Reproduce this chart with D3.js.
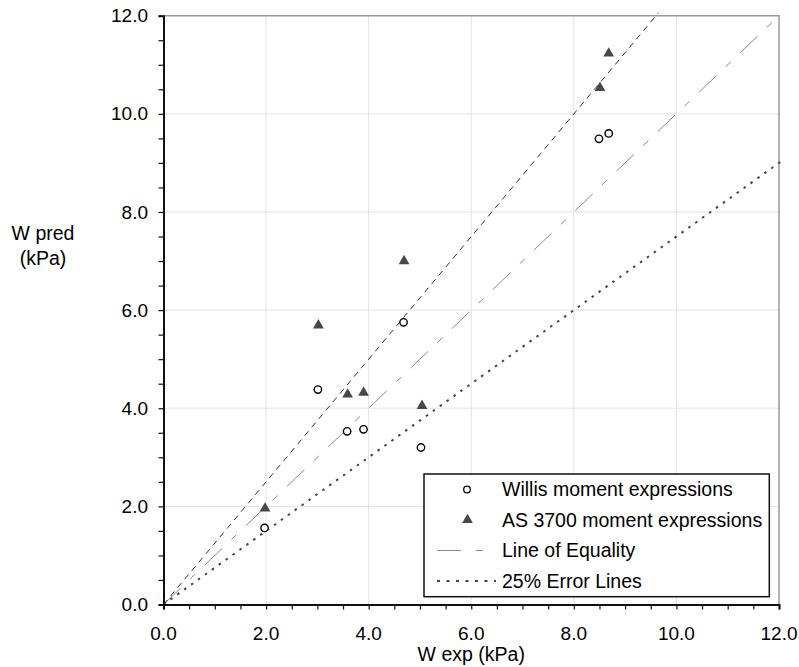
<!DOCTYPE html>
<html>
<head>
<meta charset="utf-8">
<script src="https://cdn.jsdelivr.net/npm/d3@7"></script>
<style>
  body { margin: 0; background: #fff; }
  svg { font-family: "Liberation Sans", Arial, sans-serif; }
</style>
</head>
<body>
<div class="chart"></div>
<script>
// data
const willisX = [1.97, 3.01, 3.58, 3.90, 4.68, 5.02, 8.49, 8.68];
const willisY = [1.56, 4.38, 3.53, 3.57, 5.75, 3.20, 9.49, 9.60];
const asX = [1.98, 3.02, 3.59, 3.90, 4.69, 5.04, 8.51, 8.68];
const asY = [1.96, 5.69, 4.28, 4.32, 7.00, 4.05, 10.53, 11.23];
const equalityLine = [[0, 0], [12, 12]];
const upperErrorLine = [[0, 0], [9.65, 12.06]];
const lowerErrorLine = [[0, 0], [12.08, 9.06]];
const tickValues = [0, 2, 4, 6, 8, 10, 12];
const legendLabels = ["Willis moment expressions", "AS 3700 moment expressions", "Line of Equality", "25% Error Lines"];

const width = 799, height = 667;
const pL = 163.5, pR = 779, pT = 15.7, pB = 604.5;

const svg = d3.select(".chart").append("svg")
  .attr("width", width)
  .attr("height", height);

const x = d3.scaleLinear().domain([0, 12]).range([pL, pR]);
const y = d3.scaleLinear().domain([0, 12]).range([pB, pT]);

// grid
const grid = tickValues.filter(d => d > 0 && d < 12);
svg.append("g").selectAll("line.v")
  .data(grid).enter().append("line")
  .attr("x1", d => x(d)).attr("x2", d => x(d))
  .attr("y1", pT).attr("y2", pB)
  .attr("stroke", "#e3e3e3").attr("stroke-width", 1);
svg.append("g").selectAll("line.h")
  .data(grid).enter().append("line")
  .attr("x1", pL).attr("x2", pR)
  .attr("y1", d => y(d)).attr("y2", d => y(d))
  .attr("stroke", "#e3e3e3").attr("stroke-width", 1);

// top / right frame
svg.append("path")
  .attr("d", `M${pL},${pT}H${pR}V${pB}`)
  .attr("fill", "none")
  .attr("stroke", "#999")
  .attr("stroke-width", 1.5);

const line = d3.line().x(d => x(d[0])).y(d => y(d[1]));

svg.append("path").datum(equalityLine)
  .attr("d", line)
  .attr("fill", "none").attr("stroke", "#8a8a8a").attr("stroke-width", 1)
  .attr("stroke-dasharray", "24,13,7,13");
svg.append("path").datum(upperErrorLine)
  .attr("d", line)
  .attr("fill", "none").attr("stroke", "#333").attr("stroke-width", 1)
  .attr("stroke-dasharray", "6,5");
svg.append("path").datum(lowerErrorLine)
  .attr("d", line)
  .attr("fill", "none").attr("stroke", "#444").attr("stroke-width", 2)
  .attr("stroke-dasharray", "2.5,6");

// points
const tri = d3.symbol().type(d3.symbolTriangle).size(50);
svg.append("g").selectAll("path")
  .data(asX).enter().append("path")
  .attr("d", tri)
  .attr("transform", (d, i) => `translate(${x(d)},${y(asY[i])})`)
  .attr("fill", "#484848");

svg.append("g").selectAll("circle")
  .data(willisX).enter().append("circle")
  .attr("cx", d => x(d))
  .attr("cy", (d, i) => y(willisY[i]))
  .attr("r", 3.7)
  .attr("fill", "#fff")
  .attr("stroke", "#000")
  .attr("stroke-width", 1.4);

// axes
const minor = d3.range(0, 12.01, 0.5);
const xAxis = svg.append("g")
  .attr("transform", `translate(0,${pB})`)
  .call(d3.axisBottom(x).tickValues(minor).tickSize(5).tickFormat(""));
const yAxis = svg.append("g")
  .attr("transform", `translate(${pL},0)`)
  .call(d3.axisLeft(y).tickValues(minor).tickSize(5).tickFormat(""));
[xAxis, yAxis].forEach(a => {
  a.select(".domain").attr("stroke", "#111").attr("stroke-width", 2);
  a.selectAll(".tick line").attr("stroke", "#111").attr("stroke-width", 1.2);
});

svg.append("g").selectAll("text")
  .data(tickValues).enter().append("text")
  .attr("x", d => x(d))
  .attr("y", 639.5)
  .attr("text-anchor", "middle")
  .attr("font-size", 19)
  .text(d => d.toFixed(1));

svg.append("g").selectAll("text")
  .data(tickValues).enter().append("text")
  .attr("x", 148)
  .attr("y", d => y(d))
  .attr("dy", "0.35em")
  .attr("text-anchor", "end")
  .attr("font-size", 19)
  .text(d => d.toFixed(1));

svg.append("text")
  .attr("x", x(6)).attr("y", 661)
  .attr("text-anchor", "middle").attr("font-size", 19.5)
  .text("W exp (kPa)");

svg.append("text")
  .attr("x", 43).attr("y", 240)
  .attr("text-anchor", "middle").attr("font-size", 19.5)
  .text("W pred");
svg.append("text")
  .attr("x", 43).attr("y", 265)
  .attr("text-anchor", "middle").attr("font-size", 19.5)
  .text("(kPa)");

// legend
const lg = svg.append("g");
lg.append("rect")
  .attr("x", 424).attr("y", 474)
  .attr("width", 345.3).attr("height", 122.7)
  .attr("fill", "#fff").attr("stroke", "#111").attr("stroke-width", 1.5);

const rowY = [489.5, 520, 550.5, 581];
lg.append("circle")
  .attr("cx", 467).attr("cy", rowY[0]).attr("r", 3.3)
  .attr("fill", "#fff").attr("stroke", "#000").attr("stroke-width", 1.3);
lg.append("path")
  .attr("d", tri)
  .attr("transform", `translate(467.5,${rowY[1]})`)
  .attr("fill", "#484848");
lg.append("line")
  .attr("x1", 437).attr("x2", 484).attr("y1", rowY[2]).attr("y2", rowY[2])
  .attr("stroke", "#8a8a8a").attr("stroke-width", 1)
  .attr("stroke-dasharray", "24,15,7,13");
lg.append("line")
  .attr("x1", 437).attr("x2", 496).attr("y1", rowY[3]).attr("y2", rowY[3])
  .attr("stroke", "#444").attr("stroke-width", 2)
  .attr("stroke-dasharray", "3,6.5");

lg.selectAll("text.lab")
  .data(legendLabels).enter().append("text")
  .attr("x", 502)
  .attr("y", (d, i) => rowY[i])
  .attr("dy", "0.35em")
  .attr("font-size", 19.5)
  .text(d => d);
</script>
</body>
</html>
